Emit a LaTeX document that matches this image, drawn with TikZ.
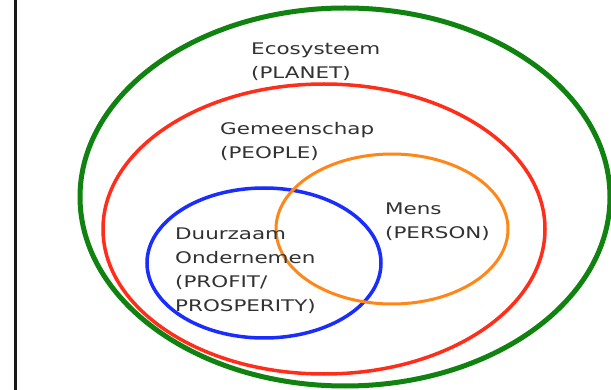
\documentclass[tikz,border=0pt]{standalone}
\usepackage{fontspec}
\setmainfont[FakeStretch=1.34]{DejaVu Sans}
\usetikzlibrary{positioning}
\definecolor{cgreen}{RGB}{16,130,16}
\definecolor{cred}{RGB}{255,45,25}
\definecolor{cblue}{RGB}{25,45,255}
\definecolor{corange}{RGB}{255,135,25}
\definecolor{ctext}{RGB}{50,50,50}
\tikzset{
  ring/.style={line width=#1},
  lbl/.style={anchor=north west, inner sep=0pt, align=left, text=ctext,
    font=\fontsize{16}{24}\selectfont}
}
\begin{document}
\begin{tikzpicture}[x=1pt,y=-1pt]
\useasboundingbox (0,0) rectangle (611,390);
\fill[white] (0,0) rectangle (611,390);
\coordinate (lt) at (15,0);
\coordinate (lb) at (15,390);
\draw[line width=3pt, black!90] (lt) -- (lb);
\coordinate (cg) at (345,197);
\coordinate (cr) at (324,229);
\coordinate (cb) at (264,263);
\coordinate (co) at (392,229);
\draw[ring=5pt, cgreen] (cg) ellipse (265 and 189);
\draw[ring=3.5pt, cred] (cr) ellipse (221 and 145);
\draw[ring=3.5pt, cblue] (cb) ellipse (117 and 75);
\draw[ring=3pt, corange] (co) ellipse (116 and 75);
\node[lbl] (eco) at (251,42.5) {Ecosysteem\\(PLANET)};
\node[lbl] (gem) at (220,122.5) {Gemeenschap\\(PEOPLE)};
\node[lbl] (mens) at (385,202.5) {Mens\\(PERSON)};
\node[lbl] (duur) at (175,228) {Duurzaam\\Ondernemen\\(PROFIT/\\PROSPERITY)};
\end{tikzpicture}
\end{document}
